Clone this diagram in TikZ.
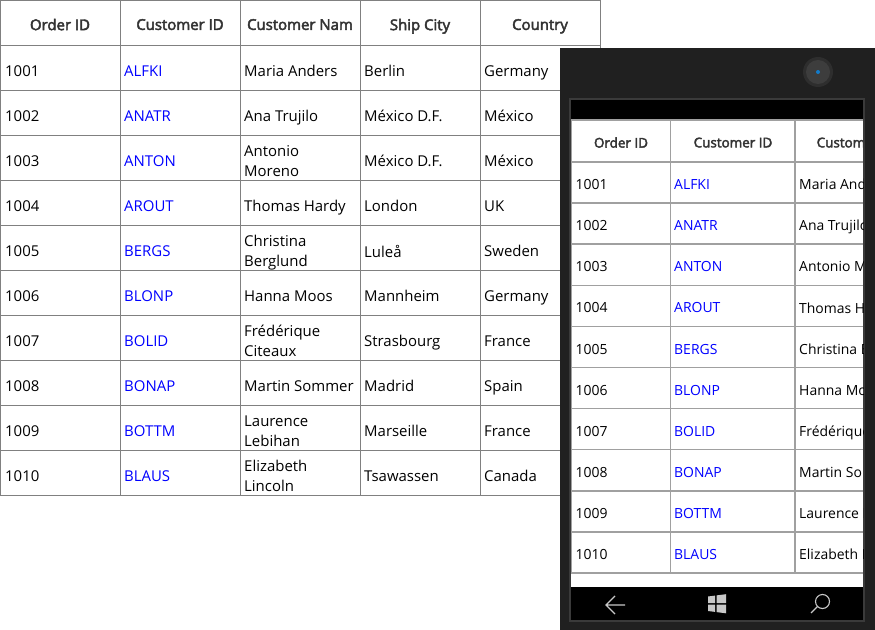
\documentclass[tikz,border=0pt]{standalone}
\usepackage{fontspec}
\setmainfont{Open Sans}
\newfontfamily\headfont[FakeBold=3]{Open Sans}
\usepackage{xcolor}
\usepackage{tikz}
\definecolor{gridgray}{HTML}{808080}
\definecolor{phonegrid}{HTML}{A0A0A0}
\definecolor{linkblue}{HTML}{0000FF}
\definecolor{headtext}{HTML}{333333}
\definecolor{framegray}{HTML}{202020}
\definecolor{screenedge}{HTML}{3A3A3A}
\definecolor{navicon}{HTML}{C8C8C8}

\begin{document}
\begin{tikzpicture}[
    x=1bp, y=-1bp,
    cell/.style={anchor=west, inner sep=0pt, align=left, text depth=0pt, yshift=-3.5bp, font=\fontsize{15}{20}\selectfont},
    idcell/.style={cell, text=linkblue},
    head/.style={inner sep=0pt, text=headtext, text depth=0pt, yshift=-2bp, font=\headfont\fontsize{15}{18}\selectfont},
    pcell/.style={anchor=west, inner sep=0pt, text depth=0pt, yshift=-2bp, font=\fontsize{14}{18}\selectfont},
    pidcell/.style={pcell, text=linkblue},
    phead/.style={inner sep=0pt, text=headtext, text depth=0pt, yshift=-1.5bp, font=\headfont\fontsize{13.5}{16}\selectfont},
    icon/.style={draw=navicon, line width=1.1bp}
]
    \useasboundingbox (0,0) rectangle (875,630);

    % Desktop grid
    \foreach \x in {0,120,...,600}
        \draw[gridgray] (\x,0) -- (\x,495);
    \foreach \y in {0,45,...,495}
        \draw[gridgray] (0,\y) -- (600,\y);

    \node[head] (hoid)  at (60,22.5)  {Order ID};
    \node[head] (hcid)  at (180,22.5) {Customer ID};
    \node[head] (hname) at (300,22.5) {Customer Nam};
    \node[head] (hcity) at (420,22.5) {Ship City};
    \node[head] (hctry) at (540,22.5) {Country};

    \foreach \oid/\cid/\cname/\city/\ctry [count=\row] in {
        1001/ALFKI/Maria Anders/Berlin/Germany,
        1002/ANATR/Ana Trujilo/México D.F./México,
        1003/ANTON/{Antonio\\Moreno}/México D.F./México,
        1004/AROUT/Thomas Hardy/London/UK,
        1005/BERGS/{Christina\\Berglund}/Luleå/Sweden,
        1006/BLONP/Hanna Moos/Mannheim/Germany,
        1007/BOLID/{Frédérique\\Citeaux}/Strasbourg/France,
        1008/BONAP/Martin Sommer/Madrid/Spain,
        1009/BOTTM/{Laurence\\Lebihan}/Marseille/France,
        1010/BLAUS/{Elizabeth\\Lincoln}/Tsawassen/Canada}
    {
        \node[cell]   (oid\row)  at (5,{45*\row+22.5})   {\oid};
        \node[idcell] (cid\row)  at (124,{45*\row+22.5}) {\cid};
        \node[cell]   (name\row) at (244,{45*\row+22.5}) {\cname};
        \node[cell]   (city\row) at (364,{45*\row+22.5}) {\city};
        \node[cell]   (ctry\row) at (484,{45*\row+22.5}) {\ctry};
    }

    % Phone frame and camera
    \fill[framegray] (560,48) rectangle (875,630);
    \fill[black!82] (818,72) circle (15);
    \fill[black!76] (818,72) circle (12);
    \fill[cyan!60!blue] (818,72) circle (2);

    % Screen
    \fill[black, draw=screenedge, line width=1.5bp] (570,99) rectangle (864,621);
    \fill[white] (571,120) rectangle (863,587);

    \begin{scope}
        \clip (571,120) rectangle (863,587);
        \foreach \x in {571.5,670.7,795}
            \draw[phonegrid, line width=1.5bp] (\x,120) -- (\x,573);
        \draw[phonegrid, line width=1.5bp] (571,120) -- (863,120);
        \foreach \i in {0,...,10}
            \draw[phonegrid, line width=1.5bp] (571,{162+41.1*\i}) -- (863,{162+41.1*\i});

        \node[phead] (phoid) at (621,141) {Order ID};
        \node[phead] (phcid) at (733,141) {Customer ID};
        \node[phead, anchor=west] (phname) at (816.5,141) {Custom};

        \foreach \oid/\cid/\cname [count=\row] in {
            1001/ALFKI/Maria And,
            1002/ANATR/Ana Trujilo,
            1003/ANTON/Antonio M,
            1004/AROUT/Thomas H,
            1005/BERGS/Christina B,
            1006/BLONP/Hanna Mo,
            1007/BOLID/Frédérique,
            1008/BONAP/Martin So,
            1009/BOTTM/Laurence L,
            1010/BLAUS/Elizabeth L}
        {
            \node[pcell]   (poid\row)  at (575.5,{162+41.1*\row-20.55}) {\oid};
            \node[pidcell] (pcid\row)  at (674,{162+41.1*\row-20.55})   {\cid};
            \node[pcell]   (pname\row) at (799,{162+41.1*\row-20.55})   {\cname};
        }
    \end{scope}

    % Navigation bar icons
    \draw[icon] (615,596) -- (606,605) -- (615,614) (606,605) -- (625,605);
    \fill[navicon] (708,596.5) -- (715,595.6) -- (715,603) -- (708,603) -- cycle;
    \fill[navicon] (716.5,595.4) -- (726,594.2) -- (726,603) -- (716.5,603) -- cycle;
    \fill[navicon] (708,604.5) -- (715,604.5) -- (715,611.9) -- (708,611) -- cycle;
    \fill[navicon] (716.5,604.5) -- (726,604.5) -- (726,613.3) -- (716.5,612.1) -- cycle;
    \draw[icon] (822.5,601.5) circle (7);
    \draw[icon] (817.5,606.5) -- (811,613);
\end{tikzpicture}
\end{document}
